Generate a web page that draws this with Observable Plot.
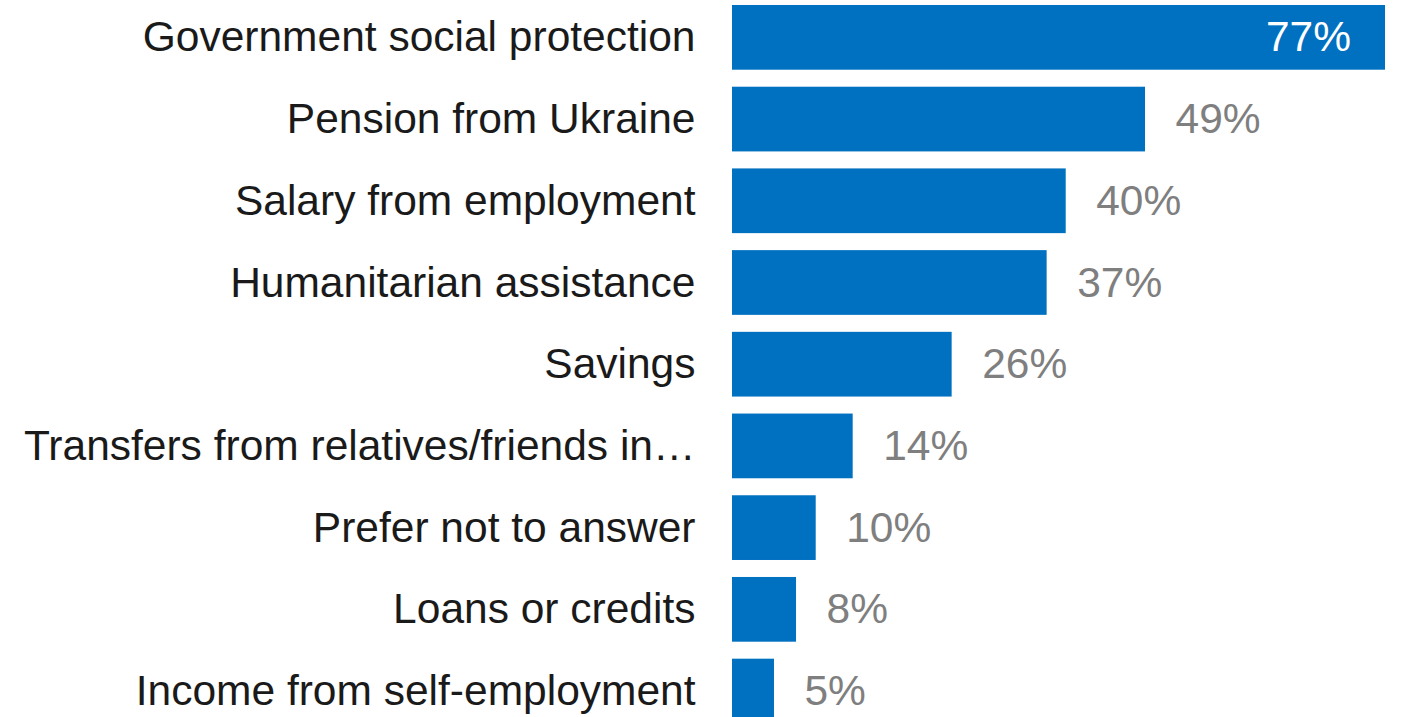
<!DOCTYPE html>
<html><head><meta charset="utf-8">
<script src="https://cdn.jsdelivr.net/npm/d3@7"></script>
<script src="https://cdn.jsdelivr.net/npm/@observablehq/plot@0.6"></script>
<style>html,body{margin:0;padding:0;background:#fff;overflow:hidden}</style>
</head><body><div id="chart"></div>
<script>
const categories = [
  "Government social protection",
  "Pension from Ukraine",
  "Salary from employment",
  "Humanitarian assistance",
  "Savings",
  "Transfers from relatives/friends in\u2026",
  "Prefer not to answer",
  "Loans or credits",
  "Income from self-employment"
];
const values = [77, 48.7, 39.35, 37.1, 25.9, 14.23, 9.87, 7.55, 4.95];
const valueLabels = ["77%", "49%", "40%", "37%", "26%", "14%", "10%", "8%", "5%"];

const data = categories.map((c, i) => ({category: c, value: values[i], label: valueLabels[i], inside: i === 0}));

const plot = Plot.plot({
  width: 1404, height: 717,
  marginLeft: 0, marginRight: 0, marginTop: 0, marginBottom: 0,
  style: {fontFamily: '"Liberation Sans", Arial, sans-serif', background: "#fff", overflow: "hidden"},
  x: {domain: [0, 77], range: [732, 1385], axis: null},
  y: {domain: categories, range: [-12, 740.4], paddingInner: 0.208, paddingOuter: 0.208, round: false, axis: null},
  marks: [
    Plot.barX(data, {x: "value", y: "category", fill: "#0070c0"}),
    Plot.text(data, {x: 0, y: "category", text: "category", textAnchor: "end", dx: -37, fontSize: 42.5, fill: "#1a1a1a"}),
    Plot.text(data.filter(d => !d.inside), {x: "value", y: "category", text: "label", textAnchor: "start", dx: 30, fontSize: 42.5, fill: "#7f7f7f"}),
    Plot.text(data.filter(d => d.inside), {x: "value", y: "category", text: "label", textAnchor: "end", dx: -34.5, fontSize: 42.5, fill: "#ffffff"})
  ]
});
document.getElementById("chart").appendChild(plot);
</script>
</body></html>
